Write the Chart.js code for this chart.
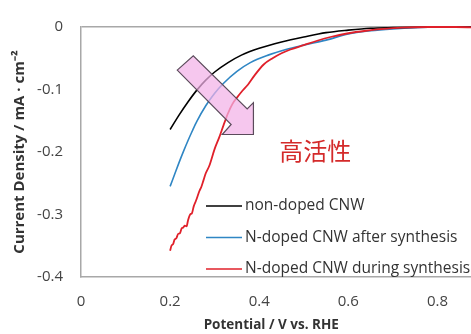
<!DOCTYPE html>
<html><head><meta charset="utf-8">
<script src="https://cdn.jsdelivr.net/npm/chart.js@4"></script>
<style>
html,body{margin:0;padding:0;background:#fff;overflow:hidden;width:471px;height:334px;}
#wrap{width:490px;height:334px;}
</style></head>
<body><div id="wrap"><canvas id="c" width="490" height="334"></canvas></div>
<script>
const seriesLabels = ['non-doped CNW', 'N-doped CNW after synthesis', 'N-doped CNW during synthesis'];
const seriesColors = ['#000000', '#2f86c4', '#e0202a'];

const nonDopedV = [0.20, 0.22, 0.24, 0.26, 0.28, 0.30, 0.33, 0.36, 0.40, 0.45, 0.50, 0.55, 0.60, 0.65, 0.70, 0.80, 0.90];
const nonDopedJ = [-0.164, -0.141, -0.120, -0.101, -0.085, -0.072, -0.057, -0.045, -0.034, -0.024, -0.016, -0.009, -0.005, -0.002, -0.001, 0, 0];

const afterV = [0.20, 0.21, 0.22, 0.23, 0.24, 0.25, 0.26, 0.28, 0.30, 0.32, 0.35, 0.38, 0.42, 0.46, 0.50, 0.55, 0.60, 0.65, 0.70, 0.75, 0.80, 0.90];
const afterJ = [-0.255, -0.236, -0.217, -0.199, -0.182, -0.166, -0.151, -0.126, -0.106, -0.090, -0.071, -0.057, -0.045, -0.036, -0.029, -0.021, -0.011, -0.006, -0.003, -0.001, 0, 0];

const duringV = [0.200, 0.203, 0.207, 0.210, 0.214, 0.218, 0.222, 0.226, 0.229, 0.233, 0.237, 0.240, 0.245, 0.249, 0.253, 0.258, 0.262, 0.266, 0.270, 0.275, 0.280, 0.288, 0.300, 0.310, 0.320, 0.330, 0.340, 0.350, 0.360, 0.375, 0.390, 0.410, 0.430, 0.450, 0.470, 0.500, 0.530, 0.560, 0.600, 0.640, 0.680, 0.720, 0.780, 0.840, 0.900];
const duringJ = [-0.358, -0.350, -0.347, -0.340, -0.338, -0.331, -0.330, -0.322, -0.321, -0.318, -0.319, -0.310, -0.300, -0.298, -0.287, -0.278, -0.270, -0.262, -0.256, -0.245, -0.234, -0.222, -0.195, -0.177, -0.157, -0.138, -0.123, -0.113, -0.104, -0.092, -0.077, -0.060, -0.050, -0.042, -0.036, -0.029, -0.022, -0.016, -0.010, -0.006, -0.003, -0.001, 0, 0, -0.001];

const xTicks = [0, 0.2, 0.4, 0.6, 0.8];
const yTicks = [0, -0.1, -0.2, -0.3, -0.4];
const xTitle = 'Potential / V vs. RHE';
const yTitle = 'Current Density / mA · cm⁻²';

const annotationText = '高活性';
const annotationV = 0.526, annotationJ = -0.198;
const arrowV = [0.216, 0.252, 0.373, 0.387, 0.387, 0.317, 0.337];
const arrowJ = [-0.069, -0.046, -0.131, -0.121, -0.172, -0.172, -0.156];

const FONT = '"Open Sans", "Liberation Sans", sans-serif';
const toPts = (xs, ys) => xs.map((v, i) => ({x: v, y: ys[i]}));

const overlay = {
  id: 'overlay',
  afterDatasetsDraw(chart) {
    const {ctx, scales: {x, y}, chartArea: a} = chart;
    ctx.save();
    // arrow
    ctx.beginPath();
    arrowV.forEach((v, i) => {
      const px = x.getPixelForValue(v), py = y.getPixelForValue(arrowJ[i]);
      i ? ctx.lineTo(px, py) : ctx.moveTo(px, py);
    });
    ctx.closePath();
    ctx.fillStyle = 'rgba(242,178,232,0.72)';
    ctx.fill();
    ctx.strokeStyle = '#5b4b5b';
    ctx.lineWidth = 1.2;
    ctx.stroke();
    // annotation text
    ctx.font = '24px "Noto Sans CJK JP"';
    ctx.fillStyle = '#d42a2a';
    ctx.textAlign = 'center';
    ctx.textBaseline = 'middle';
    ctx.fillText(annotationText, x.getPixelForValue(annotationV), y.getPixelForValue(annotationJ));
    // legend
    ctx.font = '15.5px ' + FONT;
    ctx.textAlign = 'left';
    const x0 = a.left + 125, rowTop = a.top + 179, rowGap = 31.5;
    seriesLabels.forEach((lab, i) => {
      const yy = rowTop + i * rowGap;
      ctx.strokeStyle = seriesColors[i];
      ctx.lineWidth = 1.6;
      ctx.beginPath(); ctx.moveTo(x0, yy); ctx.lineTo(x0 + 36, yy); ctx.stroke();
      ctx.fillStyle = '#333333';
      ctx.fillText(lab, x0 + 39, yy);
    });
    // x axis title (placed under the visible part of the axis, as in the source figure)
    ctx.font = 'bold 13.5px ' + FONT;
    ctx.textAlign = 'center';
    ctx.fillStyle = '#333333';
    ctx.fillText(xTitle, x.getPixelForValue(0.427), 325);
    ctx.restore();
  }
};

const mk = (i, xs, ys, order) => ({
  label: seriesLabels[i], data: toPts(xs, ys), borderColor: seriesColors[i],
  borderWidth: i === 2 ? 1.8 : 1.6, pointRadius: 0, cubicInterpolationMode: 'monotone',
  fill: false, order: order, clip: 4
});

new Chart(document.getElementById('c'), {
  type: 'line',
  data: { datasets: [mk(0, nonDopedV, nonDopedJ, 1), mk(1, afterV, afterJ, 2), mk(2, duringV, duringJ, 0)] },
  options: {
    responsive: false, animation: false, devicePixelRatio: 1,
    layout: { padding: { top: 23, right: 8, left: 0, bottom: 0 } },
    plugins: { legend: { display: false }, tooltip: { enabled: false } },
    scales: {
      x: {
        type: 'linear', min: 0, max: 0.9,
        afterBuildTicks: s => { s.ticks = xTicks.map(v => ({value: v})); },
        afterFit: s => { s.height = 57; },
        grid: { display: false, drawTicks: false },
        border: { display: true, color: '#a8a8a8', width: 1.5 },
        ticks: { padding: 16, color: '#444', font: { family: FONT, size: 15 }, callback: v => String(v) },
        title: { display: false }
      },
      y: {
        type: 'linear', min: -0.4, max: 0,
        afterBuildTicks: s => { s.ticks = yTicks.map(v => ({value: v})); },
        afterFit: s => { s.width = 81; },
        grid: { drawTicks: false, color: c => (c.tick && c.tick.value === 0) ? '#a8a8a8' : 'rgba(0,0,0,0)', lineWidth: 1.5 },
        border: { display: true, color: '#a8a8a8', width: 1.5 },
        ticks: { padding: 18, color: '#444', font: { family: FONT, size: 15 }, callback: v => String(v) },
        title: { display: true, text: yTitle, color: '#333', font: { family: FONT, size: 15, weight: 'bold' }, padding: { top: 11, bottom: 0 } }
      }
    }
  },
  plugins: [overlay]
});
</script>
</body></html>
